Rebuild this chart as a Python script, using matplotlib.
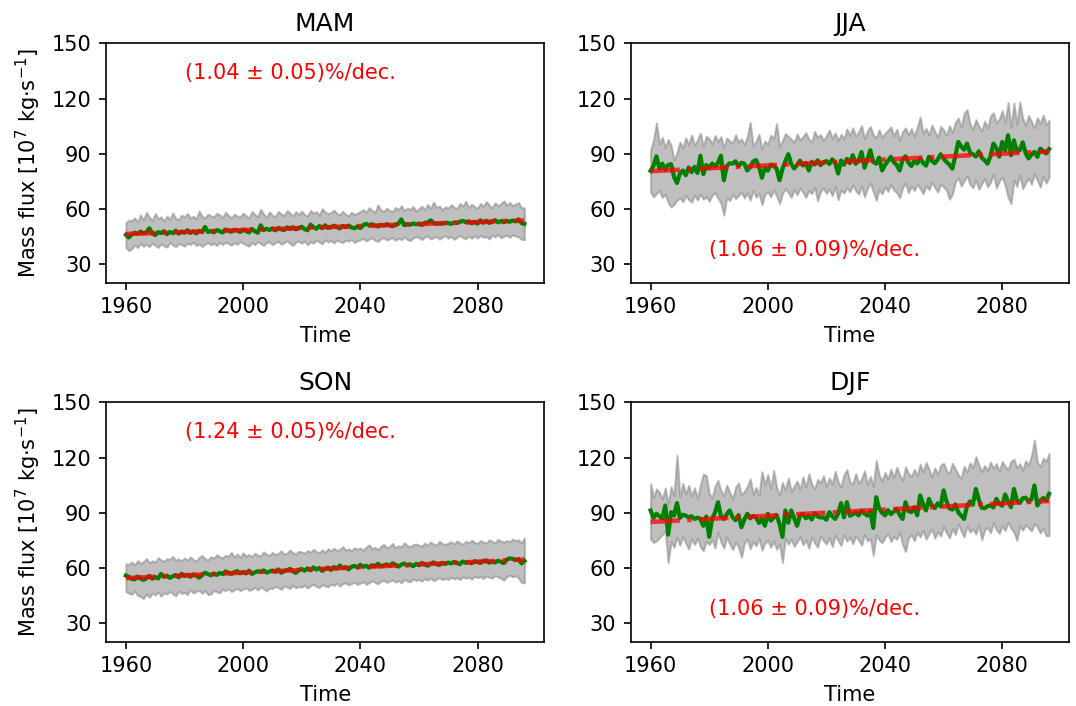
import numpy as np
import matplotlib
matplotlib.use("Agg")
import matplotlib.pyplot as plt

years = np.arange(1960, 2097)

seasons = ["MAM", "JJA", "SON", "DJF"]
trend_labels = ["(1.04 ± 0.05)%/dec.", "(1.06 ± 0.09)%/dec.",
                "(1.24 ± 0.05)%/dec.", "(1.06 ± 0.09)%/dec."]

# ensemble mean / max / min, one value per year 1960..2096
mam_mean = [46.0, 44.6, 46.3, 47.2, 46.5, 47.8, 46.9, 47.4, 49.6, 46.8,
            45.9, 47.5, 47.0, 48.0, 46.4, 47.6, 46.9, 48.3, 46.7, 47.8,
            47.2, 48.5, 47.0, 47.9, 46.8, 48.2, 47.5, 50.3, 47.6, 48.1,
            47.4, 48.6, 48.0, 47.3, 48.9, 48.2, 47.7, 48.8, 48.3, 47.6,
            48.9, 48.1, 47.3, 49.2, 48.0, 47.2, 51.2, 48.6, 49.3, 48.7,
            49.5, 48.4, 49.8, 49.0, 48.6, 50.1, 49.3, 50.2, 49.0, 49.8,
            50.4, 49.1, 48.5, 51.6, 50.2, 49.3, 50.8, 49.7, 51.2, 49.8,
            50.1, 51.0, 50.3, 49.5, 50.9, 50.2, 51.1, 50.0, 49.6, 50.5,
            49.7, 51.3, 52.0, 51.2, 51.8, 51.0, 50.6, 51.5, 51.1, 51.8,
            51.2, 50.7, 51.6, 52.1, 54.4, 51.3, 51.9, 51.5, 52.2, 51.8,
            52.0, 51.4, 52.5, 52.8, 53.9, 52.6, 51.9, 52.3, 52.1, 52.6,
            52.4, 52.0, 52.7, 52.5, 53.1, 53.6, 52.9, 53.4, 52.3, 53.0,
            52.1, 53.9, 52.6, 53.7, 52.5, 53.2, 54.0, 52.8, 53.5, 52.9,
            53.6, 53.1, 53.8, 53.3, 54.4, 52.4, 52.0]
mam_max = [52.5, 54.0, 53.6, 55.2, 53.1, 56.8, 54.0, 58.3, 55.6, 53.8,
           57.6, 54.9, 55.8, 53.6, 56.2, 54.4, 57.9, 55.0, 54.3, 56.7,
           55.8, 57.6, 55.2, 56.1, 54.7, 58.9, 56.0, 55.3, 57.2, 56.4,
           55.7, 57.8, 56.9, 55.4, 58.4, 56.6, 55.1, 57.3, 56.2, 55.8,
           57.9, 56.4, 55.2, 58.6, 57.1, 56.0, 59.8, 57.3, 55.6, 58.5,
           56.7, 55.9, 58.8, 57.4, 56.5, 59.2, 57.8, 56.3, 58.6, 57.1,
           58.9, 57.0, 56.2, 59.3, 57.9, 58.6, 56.8, 60.2, 58.4, 57.5,
           58.1, 59.4, 57.6, 56.9, 58.8, 57.2, 56.4, 58.3, 57.0, 57.8,
           58.6, 59.7, 58.3, 60.8, 59.4, 58.1, 62.3, 59.6, 58.8, 60.4,
           59.3, 58.6, 60.9, 59.7, 61.8, 59.2, 60.5, 59.8, 61.4, 58.9,
           60.2, 61.6, 59.8, 62.5, 60.4, 63.8, 60.9, 61.7, 59.6, 61.3,
           60.5, 62.4, 61.1, 60.3, 63.1, 61.6, 64.2, 60.8, 62.7, 61.2,
           60.6, 63.0, 61.5, 64.1, 62.2, 60.7, 63.4, 61.8, 62.9, 64.5,
           62.1, 63.6, 61.9, 62.8, 63.5, 60.9, 60.6]
mam_min = [39.2, 37.4, 38.5, 40.6, 39.1, 41.3, 39.8, 40.9, 39.5, 41.6,
           40.3, 39.2, 41.1, 40.0, 39.4, 41.9, 40.5, 39.6, 41.2, 40.7,
           39.9, 41.5, 40.8, 42.0, 40.3, 41.1, 39.7, 40.9, 41.8, 40.6,
           41.4, 40.2, 41.9, 40.8, 42.1, 41.3, 40.4, 41.7, 40.9, 42.3,
           41.6, 40.5, 39.9, 41.8, 40.7, 42.4, 41.2, 40.3, 41.9, 42.2,
           40.6, 41.8, 42.5, 40.9, 41.7, 42.8, 41.3, 40.2, 42.1, 42.6,
           41.4, 42.7, 40.6, 42.3, 41.5, 43.1, 42.0, 41.2, 43.4, 42.2,
           42.9, 41.6, 43.2, 42.4, 41.8, 43.0, 42.6, 43.5, 41.9, 42.8,
           43.3, 44.1, 42.7, 43.6, 44.4, 43.0, 42.5, 43.8, 44.6, 43.2,
           43.9, 44.5, 43.1, 44.2, 43.4, 44.8, 43.6, 42.9, 44.3, 45.0,
           44.6, 43.5, 44.9, 45.3, 43.9, 44.4, 45.1, 43.7, 44.8, 45.5,
           44.2, 45.2, 43.6, 44.7, 45.8, 44.5, 43.9, 45.4, 44.1, 45.6,
           44.3, 45.7, 44.6, 45.1, 43.8, 45.9, 44.9, 46.2, 44.4, 45.3,
           45.8, 44.7, 46.0, 45.4, 44.9, 43.6, 43.4]

jja_mean = [80.8, 83.5, 88.7, 82.0, 84.7, 81.5, 84.0, 84.4, 77.5, 74.2,
            79.3, 81.0, 78.4, 82.6, 80.1, 83.0, 79.6, 89.0, 79.0, 84.0,
            82.3, 84.8, 83.2, 85.1, 89.0, 75.7, 83.5, 84.9, 84.7, 86.0,
            83.4, 85.2, 84.7, 81.0, 82.8, 85.9, 86.6, 83.1, 77.0, 82.5,
            80.9, 84.2, 83.5, 82.0, 75.7, 81.8, 86.0, 89.8, 84.6, 82.1,
            84.0, 86.3, 83.7, 85.0, 81.0, 85.7, 84.2, 86.5, 83.9, 85.4,
            86.1, 84.5, 87.0, 85.2, 79.3, 86.4, 84.1, 87.3, 85.0, 89.3,
            84.6, 86.2, 91.0, 82.5, 87.1, 92.0, 85.6, 84.7, 88.0, 81.0,
            83.9, 86.2, 88.4, 85.5, 84.0, 81.0, 86.8, 88.7, 85.3, 83.4,
            86.0, 84.8, 87.5, 85.1, 83.6, 88.4, 86.2, 84.9, 87.0, 89.8,
            87.3, 85.6, 84.1, 82.0, 88.9, 96.5, 94.0, 92.3, 95.6, 90.7,
            89.8, 88.6, 91.4, 88.0, 86.5, 84.7, 88.8, 95.6, 93.1, 88.5,
            96.5, 92.0, 100.1, 89.3, 97.4, 91.2, 92.0, 96.3, 90.4, 87.5,
            89.6, 91.1, 88.4, 92.9, 91.5, 90.2, 92.6]
jja_max = [92.0, 97.5, 106.8, 95.2, 99.0, 93.4, 97.8, 94.6, 86.6, 90.5,
           96.4, 93.2, 98.7, 95.1, 100.2, 94.7, 97.5, 101.3, 94.0, 99.6,
           98.2, 95.4, 100.0, 96.8, 99.3, 93.5, 98.6, 97.1, 95.8, 100.4,
           96.5, 98.2, 95.0, 99.4, 107.0, 94.3, 96.8, 100.7, 92.5, 97.0,
           95.2, 100.1, 98.4, 106.5, 93.8, 97.2, 101.0, 99.5, 98.0, 96.2,
           100.8, 97.6, 99.3, 101.5, 98.1, 96.4, 102.2, 98.9, 100.5, 97.3,
           99.7, 103.0, 98.5, 101.4, 97.2, 100.6, 98.3, 103.5, 100.1, 104.2,
           99.5, 101.8, 105.3, 98.2, 102.6, 104.8, 100.3, 98.7, 103.1, 99.0,
           101.2, 102.8, 104.6, 99.8, 103.4, 97.6, 102.0, 104.1, 100.5, 103.7,
           99.6, 104.5, 110.0, 101.2, 103.8, 100.4, 105.6, 102.3, 99.1, 104.9,
           103.0, 100.2, 105.3, 101.6, 107.2, 109.4, 104.5, 112.0, 114.0, 106.3,
           103.4, 108.6, 105.1, 102.5, 107.8, 104.0, 110.5, 112.3, 106.8, 109.0,
           113.5, 107.2, 118.0, 104.6, 117.5, 106.0, 118.2, 109.3, 105.5, 110.8,
           107.4, 104.2, 109.6, 106.5, 111.0, 105.8, 108.3]
jja_min = [69.3, 66.6, 68.5, 70.2, 66.4, 68.0, 63.5, 61.2, 62.5, 64.8,
           66.1, 64.0, 67.3, 65.2, 63.8, 67.6, 64.9, 68.2, 65.4, 66.8,
           64.3, 67.5, 69.0, 65.8, 63.2, 56.7, 66.4, 64.6, 68.1, 65.7,
           67.4, 69.2, 66.0, 68.8, 64.9, 70.1, 66.5, 68.6, 62.4, 67.9,
           69.5, 66.7, 70.4, 67.2, 63.0, 68.5, 71.2, 69.0, 66.3, 70.6,
           67.8, 71.5, 69.1, 66.4, 70.2, 68.4, 72.0, 64.5, 69.7, 71.3,
           68.6, 70.9, 67.3, 72.4, 65.1, 70.5, 68.7, 71.8, 69.4, 73.0,
           70.2, 68.1, 72.5, 66.6, 71.4, 74.0, 69.5, 64.9, 70.8, 68.3,
           72.1, 69.7, 73.3, 70.4, 68.9, 66.2, 71.6, 74.2, 69.0, 72.5,
           70.1, 73.6, 71.2, 68.4, 72.8, 70.6, 74.5, 71.9, 69.3, 73.7,
           72.0, 70.3, 65.4, 68.2, 74.8, 77.0, 72.6, 75.3, 78.1, 73.4,
           71.6, 75.9, 70.8, 73.7, 76.4, 72.1, 74.6, 79.0, 71.5, 75.2,
           77.3, 73.0, 66.5, 63.0, 75.8, 72.4, 78.6, 71.0, 74.3, 76.8,
           73.5, 79.2, 75.6, 72.0, 77.9, 74.1, 77.5]

son_mean = [56.0, 55.2, 54.1, 53.9, 55.4, 54.3, 53.6, 54.5, 55.8, 54.2,
            55.1, 54.4, 56.8, 55.3, 55.9, 54.7, 55.6, 56.2, 55.0, 56.9,
            55.7, 56.4, 55.3, 56.6, 55.9, 54.8, 56.2, 57.5, 56.8, 56.1,
            57.0, 56.3, 57.4, 56.8, 58.2, 57.5, 56.9, 57.8, 58.4, 57.2,
            57.9, 57.1, 58.6, 56.8, 57.7, 58.3, 57.9, 58.8, 57.6, 58.1,
            58.7, 58.0, 59.3, 57.5, 58.4, 58.9, 59.6, 58.2, 57.4, 59.0,
            59.5, 58.6, 59.9, 58.8, 60.4, 59.2, 60.1, 58.5, 59.6, 60.3,
            59.0, 60.6, 59.7, 61.4, 60.1, 60.5, 59.3, 60.8, 61.2, 60.4,
            61.8, 60.7, 61.3, 60.2, 61.6, 61.0, 62.4, 60.9, 61.5, 62.0,
            61.2, 62.6, 61.8, 60.8, 61.9, 62.5, 61.4, 62.1, 61.0, 62.3,
            61.6, 62.8, 62.0, 61.3, 62.4, 63.1, 62.2, 61.7, 62.9, 62.3,
            63.0, 62.5, 63.4, 62.7, 62.1, 63.6, 62.9, 63.2, 62.6, 63.8,
            63.3, 62.8, 63.9, 64.2, 62.9, 63.5, 63.1, 64.0, 63.4, 62.7,
            64.6, 65.3, 65.0, 64.4, 64.9, 62.6, 63.9]
son_max = [62.4, 62.0, 63.3, 61.8, 64.1, 62.6, 63.5, 65.2, 62.9, 64.0,
           63.2, 65.6, 64.4, 63.7, 65.1, 64.8, 66.3, 64.2, 65.0, 63.9,
           65.5, 64.3, 66.0, 64.7, 63.8, 65.9, 66.8, 65.1, 64.5, 66.2,
           65.4, 67.3, 66.1, 65.6, 67.0, 66.4, 68.5, 66.0, 67.7, 65.8,
           68.3, 66.5, 67.4, 66.2, 68.1, 67.0, 66.6, 68.8, 67.5, 66.9,
           68.6, 67.3, 68.0, 69.4, 67.6, 68.2, 69.8, 68.4, 67.7, 69.1,
           68.8, 68.1, 69.5, 68.6, 70.2, 69.0, 68.4, 69.9, 68.7, 70.5,
           69.3, 70.8, 69.6, 70.1, 71.6, 69.8, 70.4, 69.5, 71.0, 70.3,
           70.9, 69.7, 71.4, 72.6, 70.6, 71.3, 70.0, 71.8, 72.9, 71.2,
           71.7, 73.4, 71.0, 72.2, 71.5, 73.8, 72.3, 71.6, 72.7, 73.1,
           72.5, 71.9, 73.6, 72.4, 74.2, 73.0, 72.6, 74.5, 73.3, 72.8,
           73.5, 74.3, 73.1, 74.8, 73.7, 72.9, 74.6, 73.8, 75.1, 74.0,
           73.4, 74.9, 74.2, 73.6, 75.3, 74.5, 73.8, 75.6, 74.7, 74.1,
           75.0, 74.4, 75.8, 74.9, 75.4, 73.7, 76.2]
son_min = [47.2, 46.4, 45.8, 47.5, 45.1, 44.6, 43.5, 45.9, 44.2, 46.3,
           45.4, 47.0, 44.8, 46.6, 45.9, 47.3, 46.1, 44.9, 47.6, 46.2,
           46.8, 45.7, 48.3, 46.5, 47.4, 48.0, 46.3, 47.8, 45.6, 45.9,
           47.9, 47.2, 46.6, 48.5, 47.7, 48.9, 47.3, 48.2, 49.0, 47.8,
           48.6, 49.3, 47.9, 48.4, 49.6, 48.1, 49.8, 48.7, 47.6, 49.2,
           48.8, 50.1, 49.4, 48.5, 50.3, 49.7, 48.9, 50.6, 49.3, 50.0,
           49.6, 50.8, 49.1, 50.4, 51.2, 50.0, 49.5, 51.0, 50.3, 49.8,
           51.3, 50.6, 51.8, 50.2, 51.5, 52.1, 50.9, 51.6, 52.4, 51.1,
           51.9, 52.6, 51.2, 52.0, 53.1, 52.3, 51.5, 52.8, 53.4, 52.2,
           52.9, 53.6, 52.4, 53.2, 52.0, 53.9, 53.0, 52.6, 54.1, 53.3,
           53.8, 52.9, 54.3, 53.5, 54.6, 53.2, 54.0, 54.8, 53.7, 54.4,
           53.9, 55.0, 54.2, 54.7, 53.8, 55.3, 54.5, 55.1, 54.0, 55.6,
           54.8, 55.4, 54.3, 55.8, 55.0, 54.6, 56.0, 55.2, 54.4, 53.5,
           55.5, 56.1, 55.3, 55.9, 54.7, 52.2, 52.0]

djf_mean = [91.3, 87.3, 89.5, 88.2, 87.0, 94.0, 78.2, 90.4, 88.6, 95.3,
            87.3, 89.0, 88.5, 87.6, 88.2, 86.7, 87.4, 86.7, 83.0, 88.0,
            77.0, 86.7, 90.2, 95.8, 88.5, 86.7, 89.4, 91.3, 87.5, 86.0,
            88.8, 82.2, 86.4, 89.5, 87.0, 88.3, 87.6, 84.5, 86.9, 83.0,
            89.5, 85.8, 87.4, 88.9, 84.0, 77.0, 91.3, 84.6, 91.3, 87.2,
            83.0, 88.6, 89.4, 87.1, 88.5, 86.4, 89.8, 88.1, 87.5, 87.6,
            86.3, 90.4, 88.2, 86.7, 89.5, 95.3, 87.6, 95.8, 88.4, 89.1,
            90.2, 88.6, 91.3, 89.7, 88.5, 90.8, 81.8, 98.5, 92.4, 90.1,
            88.6, 91.5, 89.3, 90.7, 92.2, 88.9, 86.7, 95.8, 91.0, 90.4,
            93.1, 88.7, 99.5, 94.8, 91.3, 97.6, 94.0, 92.6, 95.2, 93.5,
            102.2, 96.1, 92.4, 91.8, 94.6, 90.3, 88.5, 86.7, 93.9, 96.2,
            94.4, 103.0, 97.2, 92.8, 92.5, 93.6, 94.1, 92.9, 97.6, 95.0,
            93.8, 100.0, 96.3, 93.1, 103.0, 96.8, 95.4, 97.9, 98.3, 96.1,
            97.5, 104.9, 94.0, 96.6, 98.1, 96.8, 100.4]
djf_max = [105.8, 98.5, 103.0, 101.2, 97.6, 103.5, 95.0, 104.2, 99.3, 121.3,
           98.7, 106.0, 100.4, 104.8, 99.1, 103.6, 97.8, 105.2, 111.0, 110.3,
           100.5, 98.2, 104.7, 107.6, 102.0, 99.4, 105.1, 101.3, 97.5, 103.9,
           106.2, 99.8, 101.7, 104.3, 108.5, 100.2, 103.8, 99.6, 112.4, 105.3,
           110.8, 103.2, 113.1, 104.0, 99.7, 106.5, 102.4, 108.9, 101.5, 104.6,
           107.3, 102.8, 109.5, 104.1, 111.2, 105.6, 103.0, 108.2, 106.3, 110.1,
           104.5, 109.0, 105.8, 112.6, 106.9, 104.2, 110.7, 113.5, 107.1, 105.6,
           111.3, 106.2, 108.5, 112.8, 105.4, 109.7, 104.3, 118.5, 110.6, 107.3,
           112.1, 108.4, 113.7, 109.2, 114.8, 110.5, 107.6, 115.0, 111.4, 109.8,
           113.6, 110.2, 116.5, 112.1, 117.4, 113.8, 109.5, 114.4, 111.0, 115.9,
           117.0, 112.8, 111.5, 116.9, 114.0, 110.6, 108.9, 115.3, 112.2, 117.2,
           114.6, 120.5, 116.1, 112.4, 115.8, 113.0, 117.6, 114.2, 116.8, 112.5,
           118.0, 115.3, 113.6, 117.9, 119.2, 114.5, 116.7, 113.2, 118.4, 116.0,
           121.0, 129.5, 117.4, 115.2, 119.6, 118.1, 122.3]
djf_min = [75.8, 74.0, 74.8, 76.5, 78.2, 80.0, 63.0, 74.5, 71.3, 76.8,
           72.5, 77.2, 73.6, 70.4, 75.9, 72.8, 76.3, 71.5, 69.5, 74.7,
           72.8, 75.5, 71.0, 79.6, 74.2, 70.9, 76.8, 73.2, 70.1, 74.0,
           71.6, 66.0, 73.4, 75.8, 70.5, 74.6, 72.1, 76.2, 69.8, 73.5,
           75.1, 71.3, 74.8, 70.2, 72.9, 63.0, 76.5, 73.0, 75.7, 71.8,
           74.3, 77.1, 72.6, 75.4, 70.8, 76.9, 73.7, 71.4, 77.5, 74.9,
           73.1, 76.4, 71.6, 77.8, 75.0, 72.3, 78.2, 74.6, 76.9, 73.3,
           77.4, 75.2, 72.5, 78.4, 74.8, 76.1, 67.0, 77.9, 75.3, 73.8,
           76.7, 78.8, 74.4, 77.2, 75.6, 79.5, 72.9, 69.0, 76.5, 78.1,
           74.9, 79.3, 77.0, 80.4, 75.8, 78.6, 81.2, 76.3, 79.7, 77.4,
           82.6, 79.1, 76.4, 81.5, 78.3, 84.0, 80.2, 77.0, 82.8, 79.6,
           81.3, 78.5, 83.6, 75.4, 80.7, 82.1, 79.2, 84.5, 81.0, 78.8,
           83.2, 80.4, 84.8, 81.7, 79.5, 75.0, 82.9, 80.6, 83.5, 81.8,
           80.2, 84.1, 82.3, 79.0, 81.6, 77.5, 77.6]

means = [mam_mean, jja_mean, son_mean, djf_mean]
maxs = [mam_max, jja_max, son_max, djf_max]
mins = [mam_min, jja_min, son_min, djf_min]
label_y = [134, 38, 134, 38]

fig, axes = plt.subplots(2, 2, figsize=(1076 / 150, 706 / 150), dpi=150)
fig.subplots_adjust(left=0.0985, right=0.9935, top=0.9385, bottom=0.091,
                    wspace=0.197, hspace=0.5)

for i, ax in enumerate(axes.flat):
    mean = np.array(means[i])
    ax.fill_between(years, mins[i], maxs[i], color="gray", alpha=0.5)
    ax.plot(years, mean, color="green", lw=2)
    # linear trend
    p = np.polyfit(years, mean, 1)
    ax.plot(years, np.polyval(p, years), color="red", ls="-.", lw=2.2, alpha=0.75)
    ax.text(1980, label_y[i], trend_labels[i], color="red", va="center", ha="left")
    ax.set_ylim(20, 150)
    ax.set_yticks([30, 60, 90, 120, 150])
    ax.set_xticks([1960, 2000, 2040, 2080])
    ax.set_title(seasons[i])
    ax.set_xlabel("Time")
    if i % 2 == 0:
        ax.set_ylabel(r"Mass flux [$10^7$ kg$\cdot$s$^{-1}$]")

fig.savefig("out.png", dpi=150)
